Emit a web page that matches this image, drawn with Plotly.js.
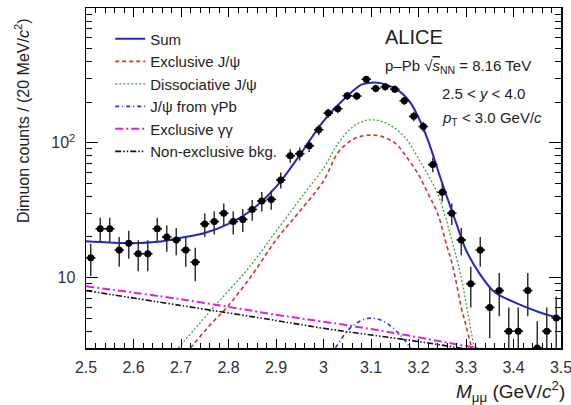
<!DOCTYPE html>
<html>
<head>
<meta charset="utf-8">
<script src="https://cdn.plot.ly/plotly-3.0.1.min.js"></script>
<style>html,body{margin:0;padding:0;background:#fff;}#chart{width:571px;height:405px;}</style>
</head>
<body>
<div id="chart"></div>
<script>
// Data points: bin centres (GeV/c^2) and dimuon counts per 20 MeV/c^2
const massBins = [2.51,2.53,2.55,2.57,2.59,2.61,2.63,2.65,2.67,2.69,2.71,2.73,2.75,2.77,2.79,2.81,2.83,2.85,2.87,2.89,
  2.91,2.93,2.95,2.97,2.99,3.01,3.03,3.05,3.07,3.09,3.11,3.13,3.15,3.17,3.19,3.21,3.23,3.25,3.27,3.29,
  3.31,3.33,3.35,3.37,3.39,3.41,3.43,3.45,3.47,3.49];
const counts = [14,23,23,16,18,15,15,23,20,19,16,13,25,26,30,26,27,32,37,38,
  53,80,83,95,125,166,179,223,222,296,253,260,250,205,157,132,69,43,30,19,
  9,16,6,8,4,4,8,3,4,5];

// Fit components
const sumX = [2.50,2.55,2.60,2.65,2.70,2.75,2.80,2.85,2.90,2.95,3.00,3.05,3.08,3.10,3.12,3.15,3.18,3.20,3.22,3.25,3.28,3.30,3.33,3.36,3.40,3.45,3.50];
const sumY = [18.6,18.2,18.0,18.4,19.7,21.4,25,32,47,81,145,222,270,279,277,254,205,154,104,50,25,16,10.5,7.8,6.6,5.6,4.95];

const exclX = [2.72,2.76,2.80,2.85,2.90,2.95,3.00,3.03,3.06,3.08,3.10,3.12,3.15,3.17,3.20,3.22,3.24,3.26,3.27,3.28,3.29,3.30,3.312];
const exclY = [3.0,4.4,6.2,10.5,19,31,52,84,105,112,114,112,100,83,58,42,30,17,13,9,6,4.4,3.0];

const dissX = [2.694,2.73,2.77,2.84,2.90,2.95,3.00,3.03,3.06,3.08,3.10,3.13,3.17,3.20,3.24,3.27,3.29,3.30,3.317];
const dissY = [3.0,4.2,6.1,11.5,22,38,65,98,130,143,148,141,111,76,42,19,10,6.5,3.0];

const gpbX = [3.00,3.03,3.05,3.07,3.09,3.10,3.12,3.14,3.16,3.18,3.20];
const gpbY = [2.2,3.2,4.0,4.6,4.95,5.0,4.85,4.4,3.8,3.1,2.5];

const ggX = [2.5,2.7,2.9,3.0,3.1,3.2,3.3,3.4,3.5];
const ggY = [8.6,6.9,5.3,4.7,4.15,3.6,3.1,2.7,2.35];

const bkgX = [2.5,2.7,2.9,3.0,3.1,3.2,3.3,3.4,3.5];
const bkgY = [8.0,6.2,4.8,4.2,3.75,3.35,2.95,2.6,2.3];

const xTickVals = [2.5,2.6,2.7,2.8,2.9,3.0,3.1,3.2,3.3,3.4,3.5];
const xTickText = ["2.5","2.6","2.7","2.8","2.9","3","3.1","3.2","3.3","3.4","3.5"];
const yTickVals = [10,100];
const yTickText = ["10","10<sup>2</sup>"];
const yMinorVals = [3,4,5,6,7,8,9,20,30,40,50,60,70,80,90,200,300,400,500,600,700,800,900];

const FONT = "Liberation Sans, Arial, sans-serif";

const traces = [
  {x: sumX, y: sumY, mode: 'lines', name: 'Sum', line: {color: '#2626c4', width: 2, shape: 'spline'}},
  {x: exclX, y: exclY, mode: 'lines', name: 'Exclusive J/\u03c8', line: {color: '#e02a2a', width: 1.6, dash: '4px,3px', shape: 'spline'}},
  {x: dissX, y: dissY, mode: 'lines', name: 'Dissociative J/\u03c8', line: {color: '#3aa63a', width: 1.3, dash: '2px,2px', shape: 'spline'}},
  {x: gpbX, y: gpbY, mode: 'lines', name: 'J/\u03c8 from \u03b3Pb', line: {color: '#2f2fd0', width: 1.6, dash: '4px,3px,1px,3px', shape: 'spline'}},
  {x: ggX, y: ggY, mode: 'lines', name: 'Exclusive \u03b3\u03b3', line: {color: '#dc22dc', width: 2, dash: '8px,3px,2px,3px', shape: 'spline'}},
  {x: bkgX, y: bkgY, mode: 'lines', name: 'Non-exclusive bkg.', line: {color: '#111', width: 1.6, dash: '6px,2px,1.5px,2px,1.5px,2px', shape: 'spline'}},
  {x: massBins, y: counts, mode: 'markers', showlegend: false, name: 'Data',
   marker: {color: '#000', size: 7, symbol: 'circle'},
   error_y: {type: 'sqrt', color: '#333', thickness: 1.5, width: 0},
   error_x: {type: 'constant', value: 0.01, color: '#000', thickness: 1.5, width: 0}}
];

const layout = {
  width: 571, height: 405,
  margin: {l: 86, r: 10, t: 8, b: 57},
  paper_bgcolor: '#fff', plot_bgcolor: '#fff',
  font: {family: FONT, color: '#222', size: 16},
  showlegend: true,
  legend: {x: 0.051, y: 0.957, xanchor: 'left', yanchor: 'top', bgcolor: 'rgba(0,0,0,0)',
           font: {family: FONT, size: 15, color: '#222'}, tracegroupgap: 0},
  xaxis: {range: [2.5, 3.5], showline: true, linecolor: '#000', linewidth: 1.5, mirror: 'allticks',
          ticks: 'inside', ticklen: 9, tickwidth: 1, tickcolor: '#000',
          tickmode: 'array', tickvals: xTickVals, ticktext: xTickText, ticklabeloverflow: 'allow',
          tickfont: {family: FONT, size: 16, color: '#333'}, ticklabelstandoff: 4,
          minor: {dtick: 0.02, tick0: 2.5, ticks: 'inside', ticklen: 5, tickwidth: 1, tickcolor: '#000'},
          showgrid: false, zeroline: false},
  yaxis: {type: 'log', range: [Math.log10(3), 3], showline: true, linecolor: '#000', linewidth: 1.5, mirror: 'allticks',
          ticks: 'inside', ticklen: 12, tickwidth: 1, tickcolor: '#000',
          tickmode: 'array', tickvals: yTickVals, ticktext: yTickText,
          tickfont: {family: FONT, size: 16, color: '#333'}, ticklabelstandoff: 6,
          minor: {tickmode: 'array', tickvals: yMinorVals, ticks: 'inside', ticklen: 6, tickwidth: 1, tickcolor: '#000'},
          showgrid: false, zeroline: false},
  annotations: [
    {xref: 'paper', yref: 'paper', x: 0.6253, y: 0.9147, xanchor: 'left', yanchor: 'middle', showarrow: false,
     text: 'ALICE', font: {family: FONT, size: 20, color: '#222'}},
    {xref: 'paper', yref: 'paper', x: 0.6253, y: 0.8294, xanchor: 'left', yanchor: 'middle', showarrow: false,
     text: 'p\u2013Pb \u221a<span style="text-decoration:overline"><i>s</i></span><sub>NN</sub> = 8.16 TeV', font: {family: FONT, size: 15, color: '#222'}},
    {xref: 'paper', yref: 'paper', x: 0.7453, y: 0.75, xanchor: 'left', yanchor: 'middle', showarrow: false,
     text: '2.5 < <i>y</i> < 4.0', font: {family: FONT, size: 15, color: '#222'}},
    {xref: 'paper', yref: 'paper', x: 0.7453, y: 0.675, xanchor: 'left', yanchor: 'middle', showarrow: false,
     text: '<i>p</i><sub>T</sub> < 3.0 GeV/<i>c</i>', font: {family: FONT, size: 15, color: '#222'}},
    {xref: 'paper', yref: 'paper', x: 1.013, y: -0.128, xanchor: 'right', yanchor: 'middle', showarrow: false,
     text: '<i>M</i><sub>\u03bc\u03bc</sub> (GeV/<i>c</i><sup>2</sup>)', font: {family: FONT, size: 19, color: '#222'}},
    {xref: 'paper', yref: 'paper', x: -0.1347, y: 0.6676, xanchor: 'center', yanchor: 'middle', showarrow: false, textangle: -90,
     text: 'Dimuon counts / (20 MeV/<i>c</i><sup>2</sup>)', font: {family: FONT, size: 16, color: '#222'}}
  ]
};

Plotly.newPlot('chart', traces, layout, {displayModeBar: false, staticPlot: true});
</script>
</body>
</html>
